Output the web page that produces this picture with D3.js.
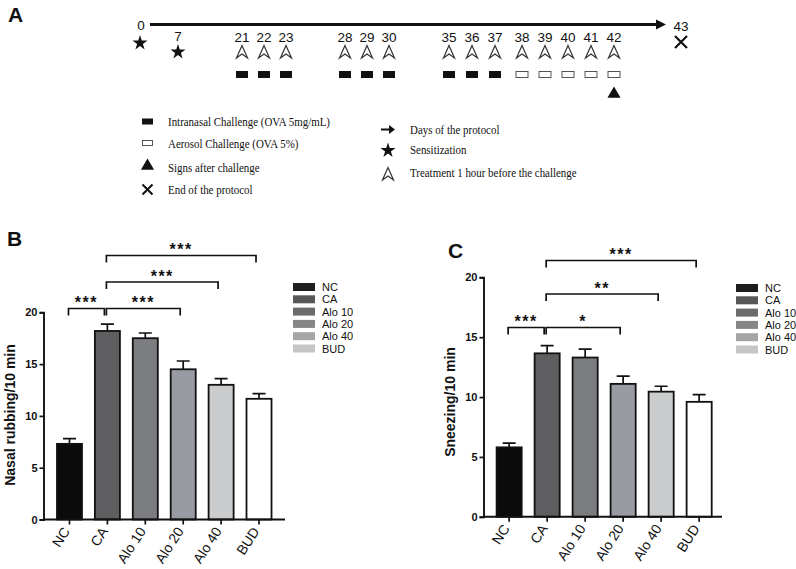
<!doctype html>
<html>
    <head>
        <meta charset="utf-8">
        <title>nasal rubbing and sneezing</title>
        <script src="https://d3js.org/d3.v7.min.js"></script>
        <style type="text/css">
            body { margin:0; background:#fff; }
            text { font-family:"Liberation Sans", Arial, sans-serif; fill:#111; }
            .serif { font-family:"Liberation Serif", "Times New Roman", serif; }
        </style>
    </head>
    <body>
        <svg></svg>
        <script type="text/javascript">

            var w = 796,
                h = 569;

            // panel A: protocol days
            var sensitizationDays = [0, 7];
            var treatmentDays = [21, 22, 23, 28, 29, 30, 35, 36, 37, 38, 39, 40, 41, 42];
            var intranasalDays = [21, 22, 23, 28, 29, 30, 35, 36, 37];
            var aerosolDays = [38, 39, 40, 41, 42];
            var signsDays = [42];
            var endDay = 43;

            // panels B and C
            var groups = ['NC', 'CA', 'Alo 10', 'Alo 20', 'Alo 40', 'BUD'];
            var rubbingMean = [7.3, 18.2, 17.5, 14.5, 13.0, 11.65];
            var rubbingSem = [0.5, 0.65, 0.5, 0.8, 0.6, 0.5];
            var sneezingMean = [5.8, 13.65, 13.3, 11.1, 10.45, 9.6];
            var sneezingSem = [0.35, 0.65, 0.7, 0.65, 0.45, 0.6];
            var yTicks = [0, 5, 10, 15, 20];
            var rubbingStats = [['NC', 'CA', '***'], ['CA', 'Alo 20', '***'], ['CA', 'Alo 40', '***'], ['CA', 'BUD', '***']];
            var sneezingStats = [['NC', 'CA', '***'], ['CA', 'Alo 20', '*'], ['CA', 'Alo 40', '**'], ['CA', 'BUD', '***']];

            var barFill = ['#0b0b0b', '#5e5e61', '#7c7d81', '#989ca2', '#cbcccd', '#ffffff'];
            var keyFill = ['#1e1e1e', '#575757', '#6c6c6c', '#868686', '#a5a5a5', '#c6c6c6'];

            var svg = d3.select('svg')
                .attr('width', w)
                .attr('height', h);

            svg.append('rect').attr('width', w).attr('height', h).attr('fill', '#fff');

            // ---------- panel A ----------
            var a = svg.append('g');
            a.append('text').text('A')
                .attr('x', 8).attr('y', 22)
                .style('font-size', '21px').style('font-weight', 'bold');

            var dayX = d3.scaleLinear()
                .domain([0, 7, 21, 23, 28, 30, 35, 37, 38, 42, 43])
                .range([140, 178, 242, 286, 345, 389, 449, 495, 522, 614, 681]);

            var star = d3.symbol().type(d3.symbolStar).size(70);
            var tri = d3.symbol().type(d3.symbolTriangle).size(75);
            var treatIcon = 'M0,-6.5L5.5,6L0,2L-5.5,6Z';

            a.append('line')
                .attr('x1', 150).attr('x2', 658)
                .attr('y1', 24.5).attr('y2', 24.5)
                .attr('stroke', '#111').attr('stroke-width', 3);
            a.append('path')
                .attr('d', 'M656,19.5L666,24.5L656,29.5Z')
                .attr('fill', '#111');
            a.append('text').text('0')
                .attr('x', dayX(0) + 1).attr('y', 30)
                .attr('text-anchor', 'middle').style('font-size', '13.5px');
            a.append('text').text(endDay)
                .attr('x', dayX(endDay)).attr('y', 31)
                .attr('text-anchor', 'middle').style('font-size', '13.5px');
            a.append('path')
                .attr('d', 'M-6,-6L6,6M-6,6L6,-6')
                .attr('transform', 'translate(' + dayX(endDay) + ',42)')
                .attr('stroke', '#111').attr('stroke-width', 2.2);

            a.selectAll('.sens')
                .data(sensitizationDays)
                .enter()
                .append('path')
                .attr('d', star)
                .attr('transform', function(d, i) {
                    return 'translate(' + dayX(d) + ',' + (i === 0 ? 43 : 52) + ')';
                })
                .attr('fill', '#111');
            a.append('text').text('7')
                .attr('x', dayX(7)).attr('y', 41)
                .attr('text-anchor', 'middle').style('font-size', '13.5px');

            a.selectAll('.day')
                .data(treatmentDays)
                .enter()
                .append('text')
                .text(function(d) { return d; })
                .attr('x', function(d) { return dayX(d); })
                .attr('y', 41.5)
                .attr('text-anchor', 'middle')
                .style('font-size', '13.5px');

            a.selectAll('.treat')
                .data(treatmentDays)
                .enter()
                .append('path')
                .attr('d', treatIcon)
                .attr('transform', function(d) { return 'translate(' + dayX(d) + ',52)'; })
                .attr('fill', '#fff').attr('stroke', '#333').attr('stroke-width', 1.2);

            a.selectAll('.nasal')
                .data(intranasalDays)
                .enter()
                .append('rect')
                .attr('x', function(d) { return dayX(d) - 6; })
                .attr('y', 71)
                .attr('width', 12).attr('height', 7)
                .attr('fill', '#111');

            a.selectAll('.aero')
                .data(aerosolDays)
                .enter()
                .append('rect')
                .attr('x', function(d) { return dayX(d) - 6; })
                .attr('y', 71.5)
                .attr('width', 12).attr('height', 6)
                .attr('fill', '#fff').attr('stroke', '#444').attr('stroke-width', 0.9);

            a.selectAll('.signs')
                .data(signsDays)
                .enter()
                .append('path')
                .attr('d', tri)
                .attr('transform', function(d) { return 'translate(' + dayX(d) + ',94)'; })
                .attr('fill', '#111');

            // panel A key (serif text, squeezed a little like the original)
            var keyLeft = [
                'Intranasal Challenge (OVA 5mg/mL)',
                'Aerosol Challenge (OVA 5%)',
                'Signs  after challenge',
                'End of the protocol'
            ];
            var keyRight = [
                'Days of the protocol',
                'Sensitization',
                'Treatment 1 hour before the challenge'
            ];
            var leftY = [121, 143, 167, 189.5];
            var rightY = [129.5, 149.5, 172];

            a.selectAll('.kl')
                .data(keyLeft)
                .enter()
                .append('text')
                .attr('class', 'serif')
                .text(function(d) { return d; })
                .attr('transform', function(d, i) {
                    return 'translate(168,' + (leftY[i] + 4.5) + ') scale(0.84,1)';
                })
                .style('font-size', '13px');
            a.selectAll('.kr')
                .data(keyRight)
                .enter()
                .append('text')
                .attr('class', 'serif')
                .text(function(d) { return d; })
                .attr('transform', function(d, i) {
                    return 'translate(410,' + (rightY[i] + 4.5) + ') scale(0.84,1)';
                })
                .style('font-size', '13px');

            a.append('rect').attr('x', 142).attr('y', leftY[0] - 2.5).attr('width', 11).attr('height', 6).attr('fill', '#111');
            a.append('rect').attr('x', 142.5).attr('y', leftY[1] - 2.5).attr('width', 10).attr('height', 5)
                .attr('fill', '#fff').attr('stroke', '#444').attr('stroke-width', 0.9);
            a.append('path').attr('d', tri).attr('transform', 'translate(147.5,' + (leftY[2] - 1) + ')').attr('fill', '#111');
            a.append('path').attr('d', 'M-5,-5L5,5M-5,5L5,-5')
                .attr('transform', 'translate(147.5,' + leftY[3] + ')')
                .attr('stroke', '#111').attr('stroke-width', 2);
            a.append('path').attr('d', 'M381,' + (rightY[0] - 1) + 'h8v-3.5l6,4.5l-6,4.5v-3.5h-8z').attr('fill', '#111');
            a.append('path').attr('d', star).attr('transform', 'translate(388,' + (rightY[1] + 1) + ')').attr('fill', '#111');
            a.append('path').attr('d', treatIcon).attr('transform', 'translate(388,' + (rightY[2] + 2) + ')')
                .attr('fill', '#fff').attr('stroke', '#333').attr('stroke-width', 1.2);

            // ---------- bar panels ----------
            function barPanel(opt) {
                var g = svg.append('g');

                var yScale = d3.scaleLinear()
                    .domain([0, 20])
                    .range([opt.bottom, opt.top]);

                var xScale = d3.scaleBand()
                    .domain(groups)
                    .range([opt.left, opt.right])
                    .paddingInner(0.34)
                    .paddingOuter(0.2);

                var bw = xScale.bandwidth();
                function cx(name) { return xScale(name) + bw / 2; }

                g.append('text').text(opt.letter)
                    .attr('x', opt.letterX).attr('y', opt.letterY)
                    .style('font-size', '21px').style('font-weight', 'bold');

                // error bars first, bars over them
                g.selectAll('.err')
                    .data(groups)
                    .enter()
                    .append('path')
                    .attr('d', function(d, i) {
                        var x = cx(d), t = yScale(opt.mean[i] + opt.sem[i]);
                        return 'M' + x + ',' + yScale(opt.mean[i]) + 'V' + t + 'M' + (x - 6.5) + ',' + t + 'H' + (x + 6.5);
                    })
                    .attr('fill', 'none').attr('stroke', '#111').attr('stroke-width', 1.7);

                g.selectAll('.bar')
                    .data(groups)
                    .enter()
                    .append('rect')
                    .attr('x', function(d) { return xScale(d); })
                    .attr('y', function(d, i) { return yScale(opt.mean[i]); })
                    .attr('width', bw)
                    .attr('height', function(d, i) { return yScale(0) - yScale(opt.mean[i]); })
                    .attr('fill', function(d, i) { return barFill[i]; })
                    .attr('stroke', '#111').attr('stroke-width', 1.8);

                var yAxis = d3.axisLeft(yScale).tickValues(yTicks).tickSize(4).tickPadding(2);
                var ya = g.append('g')
                    .attr('transform', 'translate(' + opt.axisX + ',0)')
                    .call(yAxis);
                ya.select('.domain').attr('stroke', '#111').attr('stroke-width', 1.9);
                ya.selectAll('.tick line').attr('stroke', '#111').attr('stroke-width', 1.7);
                ya.selectAll('.tick text').style('font-size', '11px').style('font-weight', 'bold')
                    .style('font-family', '"Liberation Sans", Arial, sans-serif').attr('fill', '#111');

                var xAxis = d3.axisBottom(xScale).tickSize(5).tickPadding(4);
                var xa = g.append('g')
                    .attr('transform', 'translate(0,' + opt.bottom + ')')
                    .call(xAxis);
                xa.select('.domain').remove();
                xa.selectAll('.tick line').attr('stroke', '#111').attr('stroke-width', 1.7);
                xa.selectAll('.tick text')
                    .style('font-size', '14px')
                    .style('font-family', '"Liberation Sans", Arial, sans-serif')
                    .attr('fill', '#111')
                    .attr('text-anchor', 'end')
                    .attr('dy', '0.35em')
                    .attr('transform', 'translate(-3,9) rotate(-57)')
                    .attr('y', 0).attr('x', 0);
                g.append('line')
                    .attr('x1', opt.axisX).attr('x2', opt.axisEnd)
                    .attr('y1', opt.bottom).attr('y2', opt.bottom)
                    .attr('stroke', '#111').attr('stroke-width', 1.9);

                g.append('text').text(opt.ylabel)
                    .attr('transform', 'translate(' + opt.labelX + ',' + opt.labelY + ') rotate(-90)')
                    .attr('text-anchor', 'middle')
                    .style('font-size', '14px').style('font-weight', 'bold');

                // significance brackets
                opt.stats.forEach(function(s, i) {
                    var level = i === 0 ? 0 : i - 1;
                    var y = opt.bracketBase - level * opt.bracketStep;
                    var x1 = cx(s[0]) - 1, x2 = cx(s[1]) - 3;
                    g.append('path')
                        .attr('d', 'M' + x1 + ',' + (y + 7) + 'V' + y + 'H' + x2 + 'V' + (y + 7))
                        .attr('fill', 'none').attr('stroke', '#111').attr('stroke-width', 1.7);
                    g.append('text').text(s[2])
                        .attr('x', (x1 + x2) / 2).attr('y', y - 0.5)
                        .attr('text-anchor', 'middle')
                        .style('font-size', '16px').style('font-weight', 'bold')
                        .style('letter-spacing', '1.5px');
                });

                // key
                var key = g.selectAll('.key')
                    .data(groups)
                    .enter()
                    .append('g')
                    .attr('transform', function(d, i) {
                        return 'translate(' + opt.keyX + ',' + (opt.keyY + i * 12.3) + ')';
                    });
                key.append('rect')
                    .attr('x', 0).attr('y', -4)
                    .attr('width', 22).attr('height', 8)
                    .attr('fill', function(d, i) { return keyFill[i]; });
                key.append('text')
                    .text(function(d) { return d; })
                    .attr('x', 29).attr('y', 4)
                    .style('font-size', '11px');
            }

            barPanel({
                letter: 'B', letterX: 7, letterY: 246,
                left: 49.4, right: 279.1, top: 312.3, bottom: 519.5,
                axisX: 43.5, axisEnd: 285,
                mean: rubbingMean, sem: rubbingSem, stats: rubbingStats,
                ylabel: 'Nasal rubbing/10 min', labelX: 15, labelY: 415,
                bracketBase: 308.5, bracketStep: 26.5,
                keyX: 293, keyY: 287
            });

            barPanel({
                letter: 'C', letterX: 448, letterY: 258,
                left: 489, right: 719.3, top: 277.3, bottom: 516.8,
                axisX: 483.5, axisEnd: 722,
                mean: sneezingMean, sem: sneezingSem, stats: sneezingStats,
                ylabel: 'Sneezing/10 min', labelX: 455, labelY: 402,
                bracketBase: 327.5, bracketStep: 33.5,
                keyX: 736, keyY: 288
            });
        </script>
    </body>
</html>
